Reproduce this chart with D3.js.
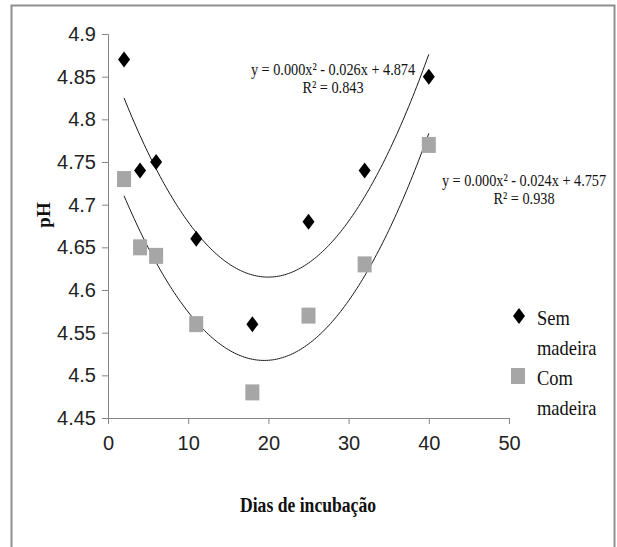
<!DOCTYPE html>
<html><head><meta charset="utf-8">
<script src="https://cdn.jsdelivr.net/npm/d3@7"></script>
<style>body{margin:0;background:#fff}svg{display:block}</style>
</head><body><svg id="c" width="617" height="547"></svg>
<script>
const days = [2, 4, 6, 11, 18, 25, 32, 40];
const semMadeira = [4.87, 4.74, 4.75, 4.66, 4.56, 4.68, 4.74, 4.85];
const comMadeira = [4.73, 4.65, 4.64, 4.56, 4.48, 4.57, 4.63, 4.77];
const xTicks = [0, 10, 20, 30, 40, 50];
const yTicks = [4.45, 4.5, 4.55, 4.6, 4.65, 4.7, 4.75, 4.8, 4.85, 4.9];
const eqSem = ["y = 0.000x² - 0.026x + 4.874", "R² = 0.843"];
const eqCom = ["y = 0.000x² - 0.024x + 4.757", "R² = 0.938"];
const seriesNames = [["Sem", "madeira"], ["Com", "madeira"]];

const svg = d3.select("#c");
const x = d3.scaleLinear().domain([0, 50]).range([108, 509]);
const y = d3.scaleLinear().domain([4.45, 4.9]).range([418, 34]);
const axisCol = "#868686";
const serif = "'Liberation Serif','Times New Roman',serif";
const sans = "'Liberation Sans Narrow','Liberation Sans',Arial,sans-serif";

// frame
svg.append("path").attr("d", "M11.5,547V5.5H614.5V547").attr("fill", "none")
  .attr("stroke", "#8f8f8f").attr("stroke-width", 2);

// axes
const gx = svg.append("g").attr("transform", `translate(0,${y(4.45)})`)
  .call(d3.axisBottom(x).tickValues(xTicks).tickSize(6).tickPadding(12).tickFormat(d3.format("d")));
const gy = svg.append("g").attr("transform", `translate(${x(0)},0)`)
  .call(d3.axisLeft(y).tickValues(yTicks).tickSize(6).tickPadding(6).tickFormat(d => String(+d.toFixed(2))));
[gx, gy].forEach(g => {
  g.select(".domain").attr("stroke", axisCol);
  g.selectAll(".tick line").attr("stroke", axisCol);
  g.selectAll(".tick text").attr("fill", "#222").style("font-family", sans).style("font-size", "20px");
});

// quadratic least squares fit
function fit(xs, ys) {
  const n = xs.length;
  let S = [0,0,0,0,0], T = [0,0,0];
  for (let i = 0; i < n; i++) {
    for (let k = 0; k < 5; k++) S[k] += Math.pow(xs[i], k);
    for (let k = 0; k < 3; k++) T[k] += ys[i] * Math.pow(xs[i], k);
  }
  const M = [[S[0],S[1],S[2],T[0]],[S[1],S[2],S[3],T[1]],[S[2],S[3],S[4],T[2]]];
  for (let i = 0; i < 3; i++) {
    for (let j = i + 1; j < 3; j++) {
      const f = M[j][i] / M[i][i];
      for (let k = i; k < 4; k++) M[j][k] -= f * M[i][k];
    }
  }
  const c = [0,0,0];
  for (let i = 2; i >= 0; i--) {
    let s = M[i][3];
    for (let k = i + 1; k < 3; k++) s -= M[i][k] * c[k];
    c[i] = s / M[i][i];
  }
  return t => c[0] + c[1] * t + c[2] * t * t;
}
const line = d3.line().x(d => x(d[0])).y(d => y(d[1])).curve(d3.curveLinear);
[semMadeira, comMadeira].forEach(vals => {
  const f = fit(days, vals);
  const pts = d3.range(2, 40.01, 0.25).map(t => [t, f(t)]);
  svg.append("path").attr("d", line(pts)).attr("fill", "none").attr("stroke", "#1a1a1a").attr("stroke-width", 1);
});

// markers
const diamond = "M0,-8L6,0L0,8L-6,0Z";
svg.append("g").selectAll("path").data(days).join("path")
  .attr("transform", (d, i) => `translate(${x(d)},${y(semMadeira[i])})`)
  .attr("d", diamond).attr("fill", "#000");
svg.append("g").selectAll("rect").data(days).join("rect")
  .attr("x", d => x(d) - 7).attr("y", (d, i) => y(comMadeira[i]) - 8)
  .attr("width", 14).attr("height", 16).attr("fill", "#a6a6a6");

// equations
function eq(lines, cx, cy) {
  const t = svg.append("text").attr("text-anchor", "middle").style("font-family", serif)
    .style("font-size", "17px").attr("fill", "#111")
    .attr("transform", `translate(${cx},${cy}) scale(0.84,1)`);
  lines.forEach((s, i) => t.append("tspan").attr("x", 0).attr("y", i * 18).text(s));
}
eq(eqSem, 333, 75);
eq(eqCom, 524, 186);

// legend
svg.append("path").attr("transform", "translate(519,316)").attr("d", diamond).attr("fill", "#000");
svg.append("rect").attr("x", 511).attr("y", 368).attr("width", 14).attr("height", 16).attr("fill", "#a6a6a6");
seriesNames.forEach((nm, i) => {
  const t = svg.append("text").style("font-family", serif).style("font-size", "22px").attr("fill", "#111")
    .attr("transform", `translate(537,${325 + i * 60}) scale(0.84,1)`);
  nm.forEach((s, j) => t.append("tspan").attr("x", 0).attr("y", j * 30).text(s));
});

// axis titles
svg.append("text").attr("text-anchor", "middle").style("font-family", serif).style("font-weight", "bold")
  .style("font-size", "21px").attr("fill", "#111")
  .attr("transform", "translate(308,512) scale(0.84,1)").text("Dias de incubação");
svg.append("text").attr("text-anchor", "middle").style("font-family", serif).style("font-weight", "bold")
  .style("font-size", "19px").attr("fill", "#111")
  .attr("transform", "translate(50,215) rotate(-90)").text("pH");
</script></body></html>
